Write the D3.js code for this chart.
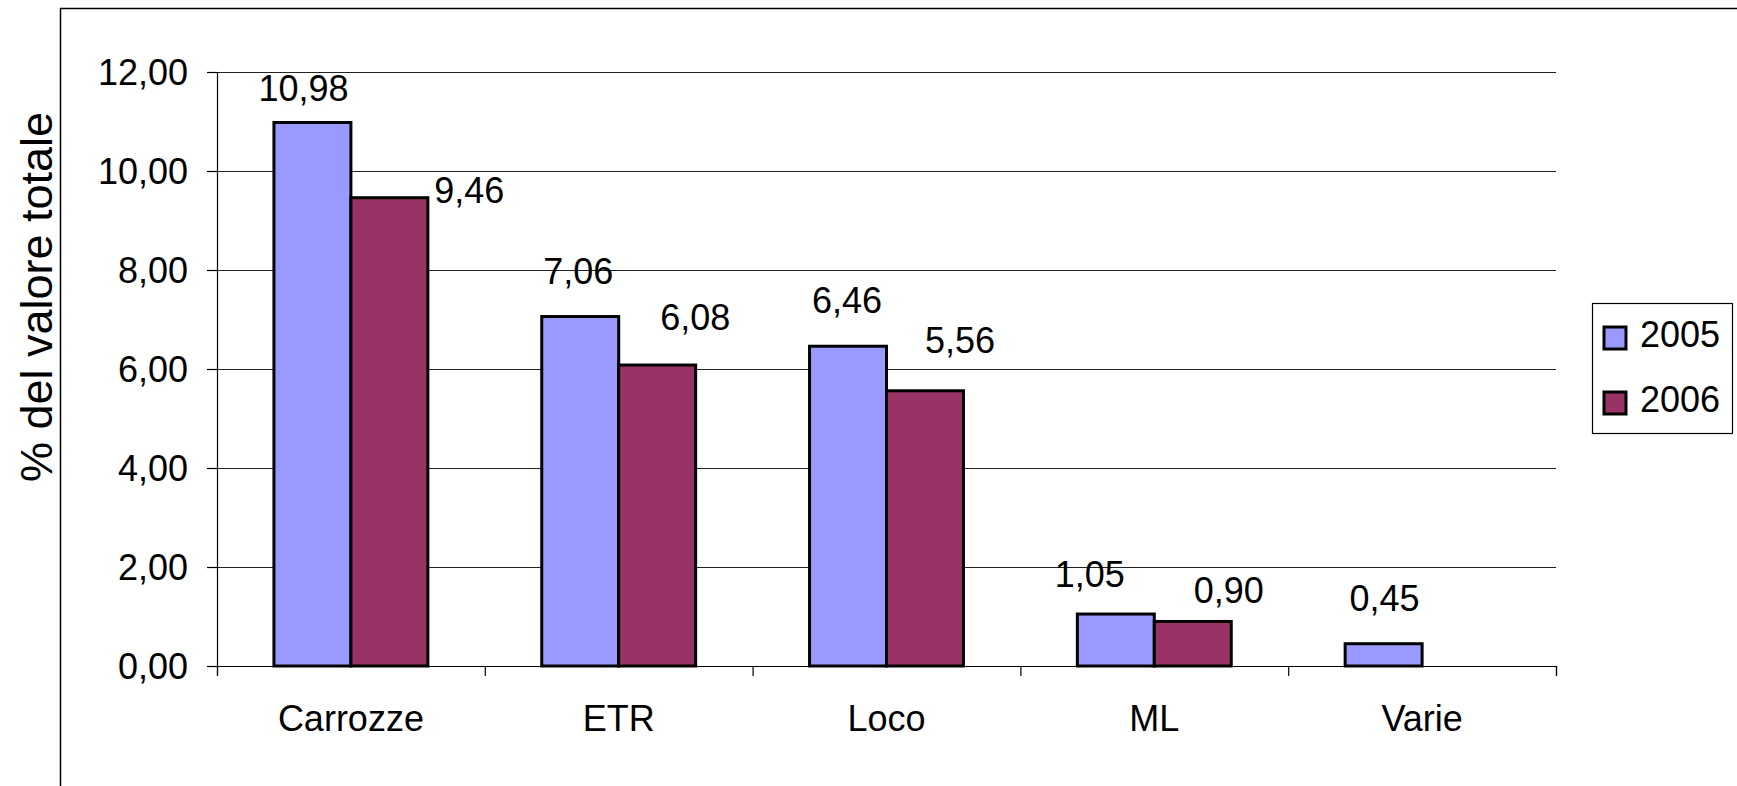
<!DOCTYPE html>
<html>
<head>
<meta charset="utf-8">
<script src="https://cdn.jsdelivr.net/npm/d3@7"></script>
<style>
  body { margin: 0; background: #fff; }
  text { font-family: "Liberation Sans", Arial, sans-serif; fill: #000; }
</style>
</head>
<body>
<div id="chart"></div>
<script>
// data
var categories = ["Carrozze", "ETR", "Loco", "ML", "Varie"];
var years = ["2005", "2006"];
var values2005 = [10.98, 7.06, 6.46, 1.05, 0.45];
var values2006 = [9.46, 6.08, 5.56, 0.90, null];
var yTicks = [0, 2, 4, 6, 8, 10, 12];

var svgWidth = 1737;
var svgHeight = 786;

var margin = { top: 72, left: 217, right: 181, bottom: 120 };
var chartWidth = svgWidth - margin.left - margin.right;
var chartHeight = svgHeight - margin.top - margin.bottom;

var colors = { "2005": "#9999ff", "2006": "#993366" };

// label nudges [dx, dy] relative to the bar top centre (Excel placed them by hand)
var nudge2005 = [[-9, -22], [-2, -33], [-1, -33], [-26, -27], [1, -33]];
var nudge2006 = [[80, 5], [38, -35], [35, -38], [36, -18]];

var fmt = function(v) { return d3.format(".2f")(v).replace(".", ","); };

var svg = d3.select("#chart")
  .append("svg")
  .attr("width", svgWidth)
  .attr("height", svgHeight);

// outer chart border (runs off the picture right and bottom)
svg.append("rect")
  .attr("x", 60.5)
  .attr("y", 8.5)
  .attr("width", 3000)
  .attr("height", 3000)
  .attr("fill", "none")
  .attr("stroke", "#000")
  .attr("stroke-width", 1.5);

var chartGroup = svg.append("g")
  .attr("transform", `translate(${margin.left}, ${margin.top})`);

var x0 = d3.scaleBand()
  .domain(categories)
  .range([0, chartWidth]);

var x1 = d3.scaleBand()
  .domain(years)
  .range([0, x0.bandwidth()])
  .paddingOuter(0.74);

var y = d3.scaleLinear()
  .domain([0, 12])
  .range([chartHeight, 0]);

// gridlines
chartGroup.selectAll(".grid")
  .data(yTicks.filter(d => d > 0))
  .enter()
  .append("line")
  .attr("x1", 0)
  .attr("x2", chartWidth)
  .attr("y1", d => Math.round(y(d)) + 0.5)
  .attr("y2", d => Math.round(y(d)) + 0.5)
  .attr("stroke", "#222")
  .attr("stroke-width", 1.2);

// y axis
var leftAxis = d3.axisLeft(y)
  .tickValues(yTicks)
  .tickSize(10)
  .tickPadding(19)
  .tickFormat(fmt);

var yAxis = chartGroup.append("g").call(leftAxis);
yAxis.select(".domain").attr("stroke", "#000").attr("stroke-width", 1.2);
yAxis.selectAll(".tick line").attr("stroke", "#000").attr("stroke-width", 1.2);
yAxis.selectAll(".tick text")
  .style("font-size", "36px")
  .style("font-family", "Liberation Sans, Arial, sans-serif")
  .attr("dy", "0.34em");

// x axis
var tickPos = categories.map(c => x0(c)).concat([chartWidth]);
var bottomAxis = d3.axisBottom(d3.scaleLinear().domain([0, chartWidth]).range([0, chartWidth]))
  .tickValues(tickPos)
  .tickSize(10)
  .tickFormat("");

var xAxis = chartGroup.append("g")
  .attr("transform", `translate(0, ${chartHeight})`)
  .call(bottomAxis);
xAxis.select(".domain").attr("stroke", "#000").attr("stroke-width", 1.2);
xAxis.selectAll(".tick line").attr("stroke", "#000").attr("stroke-width", 1.2);

chartGroup.selectAll(".cat")
  .data(categories)
  .enter()
  .append("text")
  .attr("x", d => x0(d) + x0.bandwidth() / 2)
  .attr("y", chartHeight + 65)
  .attr("text-anchor", "middle")
  .style("font-size", "36px")
  .text(d => d);

// bars
var seriesList = [
  { year: "2005", values: values2005, nudge: nudge2005 },
  { year: "2006", values: values2006, nudge: nudge2006 }
];

seriesList.forEach(function(s) {
  var rows = categories.map((c, i) => ({ cat: c, value: s.values[i], i: i }))
    .filter(d => d.value != null);

  chartGroup.selectAll(".bar" + s.year)
    .data(rows)
    .enter()
    .append("rect")
    .attr("x", d => x0(d.cat) + x1(s.year))
    .attr("y", d => y(d.value))
    .attr("width", x1.bandwidth())
    .attr("height", d => chartHeight - y(d.value))
    .attr("fill", colors[s.year])
    .attr("stroke", "#000")
    .attr("stroke-width", 3);

  chartGroup.selectAll(".lab" + s.year)
    .data(rows)
    .enter()
    .append("text")
    .attr("x", d => x0(d.cat) + x1(s.year) + x1.bandwidth() / 2 + s.nudge[d.i][0])
    .attr("y", d => y(d.value) + s.nudge[d.i][1])
    .attr("text-anchor", "middle")
    .style("font-size", "36px")
    .text(d => fmt(d.value));
});

// y axis title
svg.append("text")
  .attr("transform", "translate(52, 297) rotate(-90)")
  .attr("text-anchor", "middle")
  .style("font-size", "45px")
  .text("% del valore totale");

// legend
var legend = svg.append("g").attr("transform", "translate(1592, 303)");
legend.append("rect")
  .attr("x", 0.5)
  .attr("y", 0.5)
  .attr("width", 140)
  .attr("height", 130)
  .attr("fill", "#fff")
  .attr("stroke", "#000")
  .attr("stroke-width", 1.2);

var items = legend.selectAll(".item")
  .data(years)
  .enter()
  .append("g")
  .attr("transform", (d, i) => `translate(0, ${24 + i * 65})`);

items.append("rect")
  .attr("x", 12)
  .attr("y", 0)
  .attr("width", 22)
  .attr("height", 22)
  .attr("fill", d => colors[d])
  .attr("stroke", "#000")
  .attr("stroke-width", 3);

items.append("text")
  .attr("x", 48)
  .attr("y", 20)
  .style("font-size", "36px")
  .text(d => d);
</script>
</body>
</html>
